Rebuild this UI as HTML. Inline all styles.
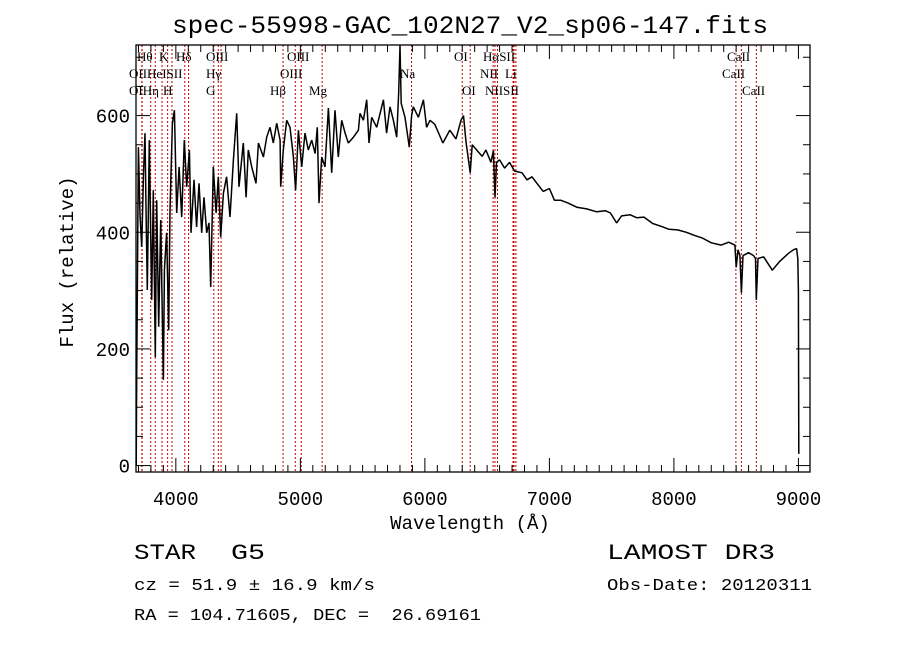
<!DOCTYPE html>
<html><head><meta charset="utf-8"><style>
body{margin:0;background:#fff;}
svg text{font-family:"Liberation Mono",monospace;fill:#000;}
svg text.ln{font-family:"Liberation Serif",serif;font-size:13px;}
</style></head><body>
<svg id="chart" width="900" height="649" viewBox="0 0 900 649" xmlns="http://www.w3.org/2000/svg">
<rect width="900" height="649" fill="#fff"/>
<text x="470" y="33" text-anchor="middle" font-size="25" textLength="596" lengthAdjust="spacingAndGlyphs">spec-55998-GAC_102N27_V2_sp06-147.fits</text>
<g id="lines"></g>
<g id="ticks"></g>
<path id="spec" fill="none" stroke="#000" stroke-width="1.5" stroke-linejoin="bevel"/>
<rect x="136" y="45" width="674" height="427" fill="none" stroke="#000" stroke-width="1.3"/>
<g id="labels">
<text class="ln" x="137" y="61">Hθ</text><text class="ln" x="159" y="61">K</text><text class="ln" x="176" y="61">Hδ</text><text class="ln" x="206" y="61">OIII</text><text class="ln" x="287" y="61">OIII</text><text class="ln" x="454" y="61">OI</text><text class="ln" x="483" y="61">HαSII</text><text class="ln" x="727" y="61">CaII</text>
<text class="ln" x="129" y="78">OIIHeISII</text><text class="ln" x="206" y="78">Hγ</text><text class="ln" x="280" y="78">OIII</text><text class="ln" x="400" y="78">Na</text><text class="ln" x="480" y="78">NII</text><text class="ln" x="505" y="78">Li</text><text class="ln" x="722" y="78">CaII</text>
<text class="ln" x="129" y="95">OIHη</text><text class="ln" x="163" y="95">H</text><text class="ln" x="206" y="95">G</text><text class="ln" x="270" y="95">Hβ</text><text class="ln" x="309" y="95">Mg</text><text class="ln" x="462" y="95">OI</text><text class="ln" x="485" y="95">NIISII</text><text class="ln" x="742" y="95">CaII</text>
</g>
<g id="ylabels" font-size="19"></g>
<g id="xlabels" font-size="19"></g>
<text x="0" y="0" font-size="19" text-anchor="middle" transform="translate(73,262) rotate(-90)">Flux (relative)</text>
<text x="470" y="529" font-size="19" text-anchor="middle">Wavelength (Å)</text>
<text x="134" y="559" font-size="22" textLength="62" lengthAdjust="spacingAndGlyphs">STAR</text>
<text x="231" y="559" font-size="22" textLength="34" lengthAdjust="spacingAndGlyphs">G5</text>
<text x="134" y="590" font-size="17" textLength="241" lengthAdjust="spacingAndGlyphs">cz = 51.9 ± 16.9 km/s</text>
<text x="134" y="620" font-size="17" xml:space="preserve" textLength="347" lengthAdjust="spacingAndGlyphs">RA = 104.71605, DEC =  26.69161</text>
<text x="607" y="559" font-size="22" textLength="168" lengthAdjust="spacingAndGlyphs">LAMOST DR3</text>
<text x="607" y="590" font-size="17" textLength="205" lengthAdjust="spacingAndGlyphs">Obs-Date: 20120311</text>
</svg>
<script>
const waves=[3682,3686,3699,3712,3726,3740,3752,3762,3771,3787,3806,3819,3835,3846,3862,3878,3900,3908,3926,3943,3953,3972,3988,4007,4026,4047,4068,4087,4109,4122,4146,4167,4186,4208,4226,4248,4266,4280,4301,4323,4341,4360,4382,4408,4435,4462,4489,4507,4542,4564,4582,4609,4644,4663,4703,4730,4756,4783,4810,4837,4842,4863,4890,4917,4944,4962,4984,5011,5037,5064,5091,5118,5136,5150,5171,5198,5225,5252,5278,5305,5332,5359,5385,5426,5466,5479,5506,5533,5551,5573,5613,5667,5693,5720,5747,5774,5790,5800,5810,5840,5875,5893,5907,5948,5988,6014,6041,6080,6145,6200,6250,6290,6310,6330,6364,6380,6420,6460,6490,6530,6550,6563,6575,6600,6640,6680,6720,6780,6820,6860,6900,6950,7000,7040,7090,7150,7220,7300,7380,7450,7490,7540,7580,7650,7700,7760,7830,7900,7960,8030,8100,8160,8230,8300,8380,8440,8490,8500,8515,8530,8542,8555,8600,8640,8655,8662,8675,8720,8790,8850,8920,8960,8985,8995,9000,9003];
const flux=[0,152,546,430,375,500,570,420,301,558,284,472,186,455,238,421,147,335,399,232,438,587,609,433,512,426,558,478,541,399,490,409,484,399,460,399,416,306,512,433,495,392,467,495,426,524,604,478,553,460,541,512,484,553,529,563,580,553,587,558,478,541,592,580,529,472,575,512,570,541,558,535,580,450,529,512,613,502,609,529,592,570,553,563,575,604,592,627,553,597,580,627,570,615,592,563,640,720,621,597,546,600,615,597,627,580,592,585,553,575,560,592,600,555,502,550,540,530,541,520,540,460,520,524,510,520,505,502,490,495,484,470,475,455,455,450,443,440,435,437,433,416,428,430,425,426,415,410,405,404,400,395,390,382,378,383,378,340,370,360,296,360,365,360,355,284,355,358,335,350,364,370,372,355,300,20];
const lineWaves=[3727,3729,3798,3835,3889,3934,3969,4072,4102,4305,4341,4363,4861,4959,5007,5175,5893,6300,6364,6548,6563,6583,6708,6716,6731,8498,8542,8662];
const xTicks=[4000,5000,6000,7000,8000,9000];
const yTicks=[0,200,400,600];
const XMIN=3680,XMAX=9093,YMIN=-11,YMAX=721;
const L=136,R=810,T=45,B=472;
const sx=w=>L+(w-XMIN)/(XMAX-XMIN)*(R-L);
const sy=v=>B-(v-YMIN)/(YMAX-YMIN)*(B-T);
const NS="http://www.w3.org/2000/svg";
function mk(tag,attrs,parent){const e=document.createElementNS(NS,tag);for(const k in attrs)e.setAttribute(k,attrs[k]);parent.appendChild(e);return e;}
let d="";waves.forEach((w,i)=>{d+=(i?"L":"M")+sx(w).toFixed(1)+","+sy(flux[i]).toFixed(1);});
document.getElementById("spec").setAttribute("d",d);
const lg=document.getElementById("lines");
lineWaves.forEach(w=>{const l=mk("line",{x1:sx(w),x2:sx(w),y1:T,y2:B,stroke:"#c00000","stroke-width":1,"stroke-dasharray":"2,2"},lg);

});
const tg=document.getElementById("ticks");
for(let w=3700;w<=9093;w+=100){const maj=w%1000===0;const len=maj?14:7;
mk("line",{x1:sx(w),x2:sx(w),y1:B,y2:B-len,stroke:"#000"},tg);
mk("line",{x1:sx(w),x2:sx(w),y1:T,y2:T+len,stroke:"#000"},tg);}
for(let v=0;v<=700;v+=50){const maj=v%200===0;const len=maj?14:7;
mk("line",{x1:L,x2:L+len,y1:sy(v),y2:sy(v),stroke:"#000"},tg);
mk("line",{x1:R,x2:R-len,y1:sy(v),y2:sy(v),stroke:"#000"},tg);}
const xl=document.getElementById("xlabels");
xTicks.forEach(w=>{const t=mk("text",{x:sx(w),y:505,"text-anchor":"middle"},xl);t.textContent=w;

});
const yl=document.getElementById("ylabels");
yTicks.forEach(v=>{const t=mk("text",{x:130,y:sy(v)+7,"text-anchor":"end"},yl);t.textContent=v;

});
</script>
</body></html>
